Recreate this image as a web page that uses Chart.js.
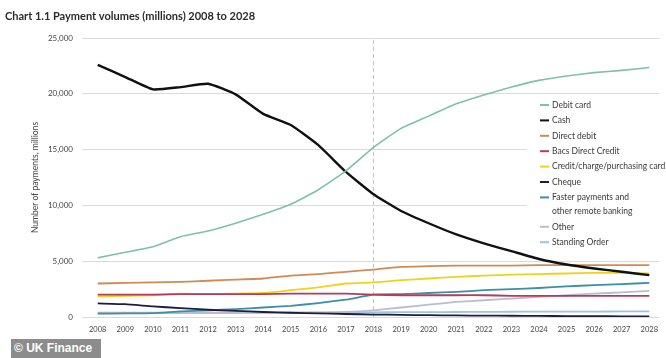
<!DOCTYPE html>
<html>
<head>
<meta charset="utf-8">
<title>Payment volumes 2008 to 2028</title>
<script src="https://cdn.jsdelivr.net/npm/chart.js@4"></script>
<style>
    html, body { margin: 0; padding: 0; background: #fff; }
    #wrap { position: relative; width: 666px; height: 358px; }
    #badge {
        position: absolute; left: 11px; top: 339px; width: 90px; height: 19px;
        background: #8c8c8c; color: #fff; box-sizing: border-box; padding-left: 3px;
        font: bold 12px "Liberation Sans", Arial, sans-serif; line-height: 19px;
    }
</style>
</head>
<body>
<div id="wrap">
    <canvas id="paymentsChart" width="666" height="358"></canvas>
    <div id="badge">© UK Finance</div>
</div>
<script>
// Data (millions of payments)
const years = [2008, 2009, 2010, 2011, 2012, 2013, 2014, 2015, 2016, 2017, 2018,
               2019, 2020, 2021, 2022, 2023, 2024, 2025, 2026, 2027, 2028];
const debitCard        = [5300, 5800, 6300, 7200, 7700, 8400, 9200, 10100, 11400, 13100, 15200, 16900, 18000, 19100, 19900, 20600, 21200, 21600, 21900, 22100, 22350];
const cash             = [22600, 21500, 20400, 20600, 20900, 19950, 18200, 17200, 15400, 13000, 11000, 9500, 8400, 7400, 6600, 5900, 5200, 4700, 4350, 4050, 3750];
const directDebit      = [3000, 3050, 3100, 3150, 3250, 3350, 3450, 3700, 3850, 4050, 4250, 4500, 4550, 4600, 4600, 4600, 4650, 4650, 4650, 4650, 4650];
const bacsDirectCredit = [2000, 2000, 2000, 2050, 2050, 2050, 2050, 2100, 2100, 2100, 2000, 1950, 1950, 1950, 1950, 1900, 1900, 1900, 1900, 1900, 1900];
const creditCard       = [1850, 1900, 1950, 2100, 2050, 2100, 2150, 2400, 2650, 3000, 3100, 3300, 3450, 3600, 3700, 3800, 3850, 3900, 3950, 3950, 3900];
const cheque           = [1220, 1150, 950, 800, 650, 550, 450, 380, 320, 270, 220, 190, 160, 140, 120, 110, 100, 80, 70, 60, 50];
const fasterPayments   = [300, 320, 350, 500, 600, 700, 850, 1000, 1250, 1550, 2000, 2050, 2150, 2250, 2400, 2500, 2600, 2750, 2850, 2950, 3050];
const other            = [400, 400, 400, 400, 400, 400, 400, 400, 420, 450, 600, 850, 1100, 1350, 1500, 1650, 1800, 1950, 2100, 2200, 2350];
const standingOrder    = [350, 350, 350, 350, 350, 360, 370, 380, 390, 400, 420, 430, 440, 450, 460, 470, 480, 490, 490, 500, 500];
const yTicks = [0, 5000, 10000, 15000, 20000, 25000];
const forecastYear = 2018;

const series = [
    { name: ['Debit card'], values: debitCard, color: '#7cc0ad', width: 1.6 },
    { name: ['Cash'], values: cash, color: '#111111', width: 2.4 },
    { name: ['Direct debit'], values: directDebit, color: '#d38a52', width: 1.8 },
    { name: ['Bacs Direct Credit'], values: bacsDirectCredit, color: '#b23c5c', width: 1.8 },
    { name: ['Credit/charge/purchasing card'], values: creditCard, color: '#f0d21e', width: 1.8 },
    { name: ['Cheque'], values: cheque, color: '#1c1c40', width: 1.8 },
    { name: ['Faster payments and', 'other remote banking'], values: fasterPayments, color: '#3b8fa8', width: 1.8 },
    { name: ['Other'], values: other, color: '#bcbccc', width: 1.8 },
    { name: ['Standing Order'], values: standingOrder, color: '#9cc6de', width: 1.8 }
];

const datasets = series.map(s => ({
    label: s.name.join(' '),
    legendLines: s.name,
    data: years.map((yr, i) => ({ x: yr, y: s.values[i] })),
    borderColor: s.color,
    backgroundColor: s.color,
    borderWidth: s.width,
    pointRadius: 0,
    tension: 0.15,
    fill: false
}));

// dashed divider between actual and forecast
datasets.push({
    label: 'forecast',
    isDivider: true,
    data: [{ x: forecastYear, y: yTicks[0] }, { x: forecastYear, y: yTicks[yTicks.length - 1] }],
    borderColor: '#c4c4c4',
    borderWidth: 1,
    borderDash: [4, 3],
    pointRadius: 0,
    fill: false
});

// Legend drawn inside the plot on a white panel
const insideLegend = {
    id: 'insideLegend',
    afterDatasetsDraw(chart) {
        const ctx = chart.ctx;
        ctx.save();
        ctx.fillStyle = '#ffffff';
        ctx.fillRect(527, 97, 139, 153);
        ctx.font = '8.5px Lato, sans-serif';
        ctx.textBaseline = 'middle';
        let y = 105;
        chart.data.datasets.forEach(ds => {
            if (ds.isDivider) return;
            ctx.strokeStyle = ds.borderColor;
            ctx.lineWidth = 2;
            ctx.beginPath();
            ctx.moveTo(540, y);
            ctx.lineTo(549, y);
            ctx.stroke();
            ctx.fillStyle = '#3a3a3a';
            ds.legendLines.forEach((line, k) => {
                ctx.fillText(line, 552, y + k * 14);
            });
            y += 15.4 + (ds.legendLines.length - 1) * 14;
        });
        ctx.restore();
    }
};

const ctx = document.getElementById('paymentsChart').getContext('2d');
new Chart(ctx, {
    type: 'line',
    data: { datasets: datasets },
    plugins: [insideLegend],
    options: {
        responsive: false,
        animation: false,
        layout: { padding: { left: 5, right: 0, top: 0, bottom: 0 } },
        plugins: {
            legend: { display: false },
            tooltip: { enabled: false },
            title: {
                display: true,
                text: 'Chart 1.1 Payment volumes (millions) 2008 to 2028',
                align: 'start',
                color: '#2b2b2b',
                font: { family: 'Lato', size: 11, weight: 'bold' },
                padding: { top: 10, bottom: 14.8 }
            }
        },
        scales: {
            x: {
                type: 'linear',
                min: 2007.43,
                max: 2028.36,
                grid: { display: false, drawTicks: false },
                border: { display: false },
                ticks: {
                    stepSize: 1,
                    includeBounds: false,
                    autoSkip: false,
                    maxRotation: 0,
                    padding: 8,
                    color: '#444',
                    font: { family: 'Lato', size: 7.5 },
                    callback: v => String(v)
                },
                afterFit: scale => { scale.height = 41; }
            },
            y: {
                min: yTicks[0],
                max: yTicks[yTicks.length - 1],
                grid: { color: '#dadada', lineWidth: 1, drawTicks: false },
                border: { display: false },
                afterBuildTicks: scale => { scale.ticks = yTicks.map(v => ({ value: v })); },
                ticks: {
                    padding: 9,
                    color: '#444',
                    font: { family: 'Lato', size: 8 },
                    callback: v => new Intl.NumberFormat('en-GB').format(v)
                },
                title: {
                    display: true,
                    text: 'Number of payments, millions',
                    color: '#444',
                    font: { family: 'Lato', size: 8.5 },
                    padding: { top: 25, bottom: 0 }
                },
                afterFit: scale => { scale.width = 77; }
            }
        }
    }
});
</script>
</body>
</html>
